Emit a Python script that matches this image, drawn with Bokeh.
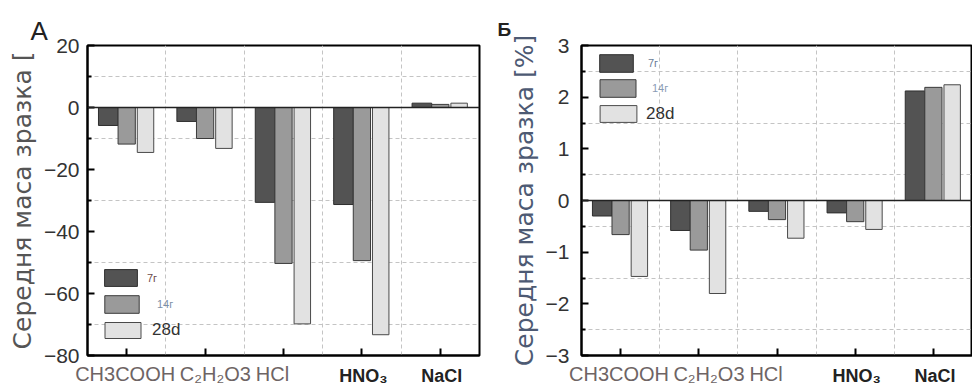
from bokeh.plotting import figure
from bokeh.models import (FixedTicker, Span, Legend, LegendItem, ColumnDataSource, Range1d,
                          Title, LinearAxis)
from bokeh.layouts import row
from bokeh.embed import file_html
from bokeh.resources import INLINE

# ---- data ----
categories = ["CH3COOH", "C\u2082H\u2082O3", "HCl", "HNO\u2083", "NaCl"]
series_names = ["7г", "14г", "28d"]

A_7d = [-5.8, -4.5, -30.6, -31.3, 1.4]
A_14d = [-11.8, -10.0, -50.3, -49.4, 1.0]
A_28d = [-14.5, -13.2, -69.8, -73.3, 1.4]

B_7d = [-0.30, -0.58, -0.21, -0.24, 2.12]
B_14d = [-0.66, -0.96, -0.37, -0.41, 2.19]
B_28d = [-1.47, -1.80, -0.73, -0.56, 2.24]

A_yticks = [-80, -60, -40, -20, 0, 20]
A_yminor = [-70, -50, -30, -10, 10]
B_yticks = [-3, -2, -1, 0, 1, 2, 3]
B_yminor = [-2.5, -1.5, -0.5, 0.5, 1.5, 2.5]

# ---- styling ----
FONT = "Liberation Sans"
fills = ["#535353", "#9a9a9a", "#e2e2e2"]
lines = ["#2e2e2e", "#3a3a3a", "#4a4a4a"]
offsets = [-0.235, 0.0, 0.24]
widths = [0.25, 0.22, 0.21]
label_nudge = [-0.02, 0.13, -0.14, 0.02, 0.02]   # category-label shifts (category units)


def make_panel(vals, yr, yticks, yminor, ylabel, ylabel_color, width, mb_left, mb_right,
               label_standoff, letter, letter_cfg, leg_cfg):
    n = len(categories)
    p = figure(width=width, height=388, output_backend="svg", toolbar_location=None,
               x_range=Range1d(0, n), y_range=Range1d(*yr),
               min_border_left=mb_left, min_border_right=mb_right,
               min_border_top=45, min_border_bottom=30)
    p.outline_line_color = "black"
    p.outline_line_width = 2

    centers = [i + 0.5 for i in range(n)]
    renderers = []
    for k, v in enumerate(vals):
        src = ColumnDataSource(dict(x=[c + offsets[k] for c in centers], top=v))
        r = p.vbar(x="x", top="top", bottom=0, width=widths[k], source=src,
                   fill_color=fills[k], line_color=lines[k], line_width=1)
        renderers.append(r)

    p.add_layout(Span(location=0, dimension="width", line_color="#222222", line_width=1.5))

    p.xgrid.ticker = FixedTicker(ticks=[1, 2, 3, 4])
    p.ygrid.ticker = FixedTicker(ticks=yminor)
    for g in (p.xgrid, p.ygrid):
        g.grid_line_color = "#c4c4c4"
        g.grid_line_dash = "4 3"
        g.grid_line_width = 1

    # axis 0: line + inward ticks, no visible labels
    xa = p.xaxis[0]
    xa.ticker = FixedTicker(ticks=centers, minor_ticks=[])
    xa.major_label_text_color = None
    xa.major_label_text_font_size = "1px"
    xa.major_label_standoff = 0
    xa.major_tick_in = 7
    xa.major_tick_out = 0
    xa.major_tick_line_width = 2
    xa.axis_line_width = 2
    xa.axis_line_color = "black"

    pos = [c + d for c, d in zip(centers, label_nudge)]
    pos = [round(v, 3) for v in pos]

    # axis 1: bold labels (HNO3, NaCl)
    ax1 = LinearAxis(ticker=FixedTicker(ticks=pos[3:], minor_ticks=[]),
                     major_label_overrides={v: t for v, t in zip(pos[3:], categories[3:])},
                     axis_line_color=None, major_tick_line_color=None,
                     minor_tick_line_color=None, major_label_standoff=4,
                     major_label_text_font=FONT, major_label_text_font_size="18px",
                     major_label_text_font_style="bold", major_label_text_color="#222222")
    p.add_layout(ax1, "below")

    # axis 2: regular grey labels, pulled back up into the same row
    ax2 = LinearAxis(ticker=FixedTicker(ticks=pos[:3], minor_ticks=[]),
                     major_label_overrides={v: t for v, t in zip(pos[:3], categories[:3])},
                     axis_line_color=None, major_tick_line_color=None,
                     minor_tick_line_color=None, major_label_standoff=-32,
                     major_label_text_font=FONT, major_label_text_font_size="20px",
                     major_label_text_color="#6e6464")
    p.add_layout(ax2, "below")

    ya = p.yaxis[0]
    ya.ticker = FixedTicker(ticks=yticks, minor_ticks=yminor)
    ya.major_tick_in = 7
    ya.major_tick_out = 0
    ya.minor_tick_in = 4
    ya.minor_tick_out = 0
    ya.major_tick_line_width = 2
    ya.minor_tick_line_width = 2
    ya.axis_line_width = 2
    ya.axis_line_color = "black"
    ya.major_label_text_font = FONT
    ya.major_label_text_font_size = "21px"
    ya.major_label_text_color = "#333333"
    ya.major_label_standoff = label_standoff
    ya.axis_label = ylabel
    ya.axis_label_text_font = "DejaVu Sans"
    ya.axis_label_text_font_size = "25px"
    ya.axis_label_text_font_style = "normal"
    ya.axis_label_text_color = ylabel_color
    ya.axis_label_standoff = 4

    # panel letter
    p.title = Title(text=letter, align="left", offset=letter_cfg[0], standoff=letter_cfg[1],
                    text_font=FONT, text_font_size=letter_cfg[2],
                    text_font_style=letter_cfg[3], text_color="#222222")

    # legend: one Legend per entry, each with its own label style
    for k, r in enumerate(renderers):
        lx, ly, gw, gh, fs, col, stand = leg_cfg[k]
        leg = Legend(items=[LegendItem(label=series_names[k], renderers=[r])],
                     location=(lx, ly), padding=0, margin=0, spacing=0,
                     glyph_width=gw, glyph_height=gh, label_standoff=stand,
                     label_text_font=FONT, label_text_font_size=fs,
                     label_text_color=col, label_height=gh,
                     border_line_color=None, background_fill_alpha=0)
        p.add_layout(leg)
    return p


pA = make_panel([A_7d, A_14d, A_28d], (-80, 20), A_yticks, A_yminor,
                "Середня маса зразка [", "#555555", 496, 87, 17, 8,
                "A", (-57, 0, "26px", "normal"),
                [(13, 67, 41, 21, "11px", "#6b4b4b", 6),
                 (13, 40, 43, 22, "11px", "#7b8fa8", 14),
                 (13, 15, 45, 20, "17px", "#333333", 7)])

pB = make_panel([B_7d, B_14d, B_28d], (-3, 3), B_yticks, B_yminor,
                "Середня маса зразка [%]", "#4d5a73", 476, 85, 0, 12,
                "Б", (-84, 11, "19px", "bold"),
                [(14, 281, 42, 22, "11px", "#6a7d98", 11),
                 (14, 256, 45, 22, "11px", "#8a9cb5", 12),
                 (14, 231, 46, 21, "17px", "#333333", 5)])

layout = row(pA, pB, spacing=0)
open("out.html", "w").write(file_html(layout, INLINE))
